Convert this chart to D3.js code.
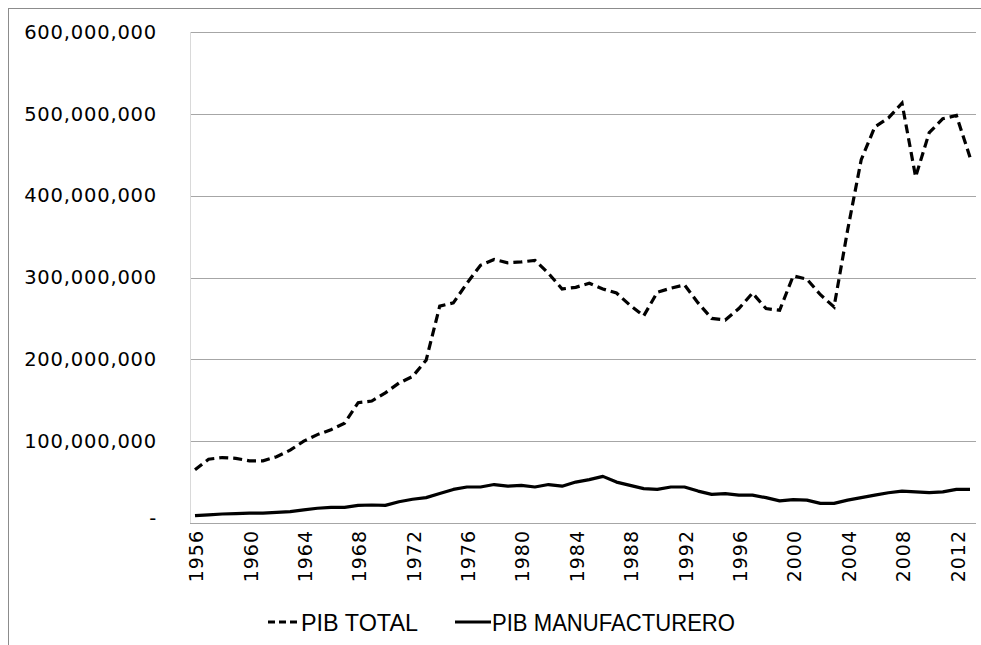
<!DOCTYPE html>
<html>
<head>
<meta charset="utf-8">
<script src="https://cdn.jsdelivr.net/npm/d3@7/dist/d3.min.js"></script>
<style>
  body { margin: 0; background: #fff; }
  svg { display: block; }
</style>
</head>
<body>
<svg id="chart" width="981" height="645"></svg>
<script>
// años 1956-2013
const years = d3.range(1956, 2014);

// PIB TOTAL
const pibTotal = [
  65e6, 78e6, 80e6, 79e6, 76e6, 76e6, 81e6, 89e6, 100e6, 108e6,
  114e6, 122e6, 147e6, 149e6, 159e6, 171e6, 179e6, 199e6, 265e6, 269e6,
  293e6, 315e6, 322e6, 318e6, 319e6, 321e6, 305e6, 286e6, 288e6, 293e6,
  286e6, 281e6, 266e6, 253e6, 282e6, 287e6, 291e6, 269e6, 250e6, 248e6,
  262e6, 281e6, 262e6, 260e6, 302e6, 298e6, 279e6, 264e6, 358e6, 444e6,
  484e6, 495e6, 513e6, 423e6, 477e6, 494e6, 498e6, 447e6
];

// PIB MANUFACTURERO
const pibManuf = [
  9e6, 10e6, 11e6, 11.5e6, 12e6, 12e6, 13e6, 14e6, 16e6, 18e6,
  19e6, 19e6, 21.5e6, 22e6, 21.5e6, 26e6, 29e6, 31e6, 36e6, 41e6,
  44e6, 44e6, 47e6, 45e6, 46e6, 44e6, 47e6, 45e6, 50e6, 53e6,
  57e6, 50e6, 46e6, 42e6, 41e6, 44e6, 44e6, 39e6, 35e6, 36e6,
  34e6, 34e6, 31e6, 27e6, 28.5e6, 28e6, 24e6, 24e6, 28e6, 31e6,
  34e6, 37e6, 39e6, 38e6, 37e6, 38e6, 41e6, 41e6
];

const yTicks = [0, 100e6, 200e6, 300e6, 400e6, 500e6, 600e6];
const xTickYears = d3.range(1956, 2014, 4);

const svg = d3.select("#chart");
const plotL = 190, plotR = 976, plotT = 32, plotB = 523;

// outer frame
svg.append("rect")
  .attr("x", 8.5).attr("y", 8.5)
  .attr("width", 1000).attr("height", 1000)
  .attr("fill", "none")
  .attr("stroke", "#8c8c8c")
  .attr("stroke-width", 1);

const x = d3.scalePoint()
  .domain(years)
  .range([195, 970]);

const y = d3.scaleLinear()
  .domain([0, 600e6])
  .range([plotB, plotT]);

// grid
svg.append("g")
  .selectAll("line")
  .data(yTicks.filter(d => d > 0))
  .join("line")
  .attr("x1", plotL).attr("x2", plotR)
  .attr("y1", d => Math.round(y(d)) + 0.5)
  .attr("y2", d => Math.round(y(d)) + 0.5)
  .attr("stroke", "#a6a6a6")
  .attr("stroke-width", 1);

// y axis
const fmt = d3.format(",");
const yAxis = d3.axisLeft(y)
  .tickValues(yTicks)
  .tickSize(0)
  .tickPadding(0)
  .tickFormat(d => d === 0 ? "-" : fmt(d));

const yg = svg.append("g")
  .attr("transform", "translate(157,0)")
  .call(yAxis);
yg.select(".domain").remove();
yg.selectAll("text")
  .attr("font-family", "DejaVu Sans")
  .attr("font-size", 19.5)
  .attr("letter-spacing", 0.8)
  .attr("fill", "#000")
  .attr("dy", d => d === 0 ? "0.1em" : "0.32em");

// left axis line
svg.append("line")
  .attr("x1", plotL + 0.5).attr("x2", plotL + 0.5)
  .attr("y1", plotT).attr("y2", plotB)
  .attr("stroke", "#d9d9d9");

// x axis
const xAxis = d3.axisBottom(x)
  .tickValues(xTickYears)
  .tickSize(0)
  .tickPadding(0);

const xg = svg.append("g")
  .attr("transform", "translate(0," + plotB + ")")
  .call(xAxis);
xg.select(".domain").remove();
xg.selectAll("text")
  .attr("font-family", "DejaVu Sans")
  .attr("font-size", 19)
  .attr("letter-spacing", 1)
  .attr("fill", "#000")
  .attr("text-anchor", "end")
  .attr("transform", "translate(1,7) rotate(-90)")
  .attr("x", 0)
  .attr("y", 0)
  .attr("dy", "0.35em");

svg.append("line")
  .attr("x1", plotL).attr("x2", plotR)
  .attr("y1", plotB + 0.5).attr("y2", plotB + 0.5)
  .attr("stroke", "#a6a6a6");

// lines
const line = d3.line()
  .x((d, i) => x(years[i]))
  .y(d => y(d));

svg.append("path")
  .datum(pibTotal)
  .attr("d", line)
  .attr("fill", "none")
  .attr("stroke", "#000")
  .attr("stroke-width", 3.2)
  .attr("stroke-dasharray", "9,5");

svg.append("path")
  .datum(pibManuf)
  .attr("d", line)
  .attr("fill", "none")
  .attr("stroke", "#000")
  .attr("stroke-width", 3.2)
  .attr("stroke-linejoin", "round");

// legend
const lg = svg.append("g").attr("font-family", "Liberation Sans").attr("font-size", 23);
lg.append("line")
  .attr("x1", 268).attr("x2", 300).attr("y1", 622).attr("y2", 622)
  .attr("stroke", "#000").attr("stroke-width", 3.2).attr("stroke-dasharray", "7,4");
lg.append("text").attr("x", 301).attr("y", 631)
  .attr("textLength", 117).attr("lengthAdjust", "spacingAndGlyphs")
  .text("PIB TOTAL");
lg.append("line")
  .attr("x1", 455).attr("x2", 491).attr("y1", 622).attr("y2", 622)
  .attr("stroke", "#000").attr("stroke-width", 3.2);
lg.append("text").attr("x", 492).attr("y", 631)
  .attr("textLength", 243).attr("lengthAdjust", "spacingAndGlyphs")
  .text("PIB MANUFACTURERO");
</script>
</body>
</html>
